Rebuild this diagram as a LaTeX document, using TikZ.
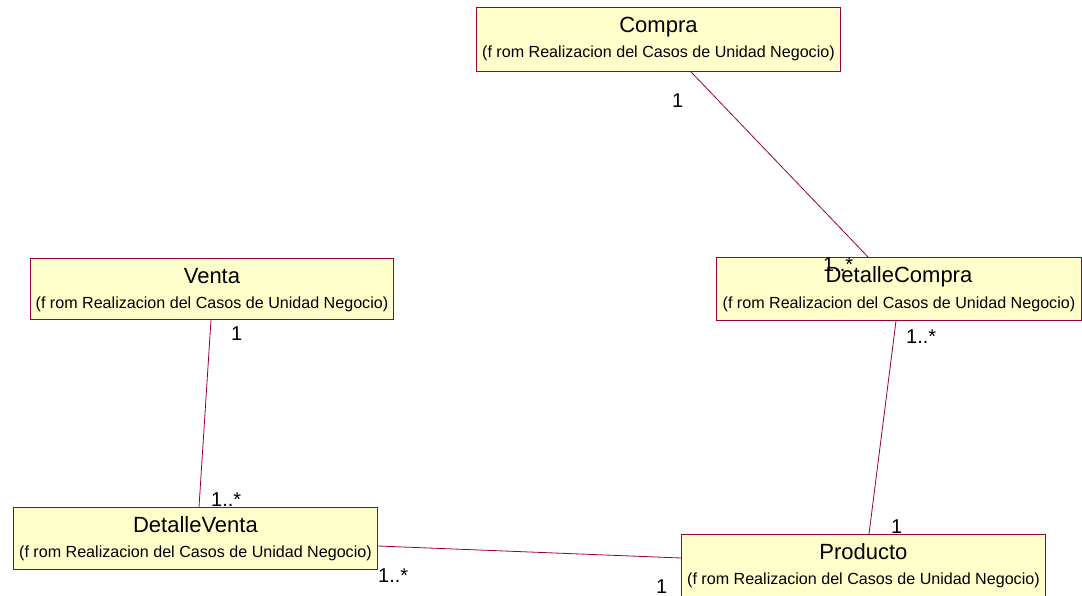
\documentclass[tikz,border=0pt]{standalone}
\usepackage{fontspec}
\setmainfont{Liberation Sans}
\usetikzlibrary{calc}
\definecolor{roseline}{HTML}{990033}
\definecolor{rosefill}{HTML}{FFFFCC}
\tikzset{
  classbox/.style={draw=roseline, fill=rosefill, line width=0.9pt, inner sep=0pt, anchor=north west},
  classname/.style={font=\fontsize{22}{26}\selectfont, anchor=base, inner sep=0pt},
  pkgnote/.style={font=\fontsize{16.1}{19}\selectfont, anchor=base, inner sep=0pt},
  mult/.style={font=\fontsize{20}{24}\selectfont, anchor=base west, inner sep=0pt},
  assoc/.style={draw=roseline, line width=0.8pt},
}
\begin{document}
\begin{tikzpicture}[x=1pt, y=-1pt]
  \clip (0,0) rectangle (1082,596);
  \fill[white] (0,0) rectangle (1082,596);

  % classes
  \node[classbox, minimum width=364pt, minimum height=64pt] (compra) at (476,7) {};
  \node[classname] (compra-t) at ($(compra.north)+(0,26)$) {Compra};
  \node[pkgnote] (compra-p) at ($(compra.north)+(0,51)$) {(f rom Realizacion del Casos de Unidad Negocio)};

  \node[classbox, minimum width=363pt, minimum height=61pt] (venta) at (30,258) {};
  \node[classname] (venta-t) at ($(venta.north)+(0,25.5)$) {Venta};
  \node[pkgnote] (venta-p) at ($(venta.north)+(0,50.5)$) {(f rom Realizacion del Casos de Unidad Negocio)};

  \node[classbox, minimum width=365pt, minimum height=63pt] (dcompra) at (716,257) {};
  \node[classname] (dcompra-t) at ($(dcompra.north)+(0,26)$) {DetalleCompra};
  \node[pkgnote] (dcompra-p) at ($(dcompra.north)+(0,51)$) {(f rom Realizacion del Casos de Unidad Negocio)};

  \node[classbox, minimum width=364pt, minimum height=62pt] (dventa) at (13,507) {};
  \node[classname] (dventa-t) at ($(dventa.north)+(0,25.5)$) {DetalleVenta};
  \node[pkgnote] (dventa-p) at ($(dventa.north)+(0,50.5)$) {(f rom Realizacion del Casos de Unidad Negocio)};

  \node[classbox, minimum width=364pt, minimum height=64pt] (producto) at (681,534) {};
  \node[classname] (producto-t) at ($(producto.north)+(0,25.5)$) {Producto};
  \node[pkgnote] (producto-p) at ($(producto.north)+(0,50.5)$) {(f rom Realizacion del Casos de Unidad Negocio)};

  % associations
  \draw[assoc] ($(compra.south west)+(215,0)$) -- ($(dcompra.north west)+(152,0)$);
  \draw[assoc] ($(venta.south west)+(181,0)$) -- ($(dventa.north west)+(186,0)$);
  \draw[assoc] ($(dcompra.south west)+(180,0)$) -- ($(producto.north west)+(188,0)$);
  \draw[assoc] ($(dventa.north east)+(0,39)$) -- ($(producto.north west)+(0,24)$);

  % multiplicities
  \node[mult] (m-compra) at (672,108) {1};
  \node[mult] (m-dcompra-top) at (823,272) {1..*};
  \node[mult] (m-venta) at (231,340) {1};
  \node[mult] (m-dcompra-bot) at (906,343) {1..*};
  \node[mult] (m-dventa-top) at (211,506) {1..*};
  \node[mult] (m-producto-top) at (891,533) {1};
  \node[mult] (m-dventa-right) at (378,582) {1..*};
  \node[mult] (m-producto-left) at (656,593) {1};
\end{tikzpicture}
\end{document}
